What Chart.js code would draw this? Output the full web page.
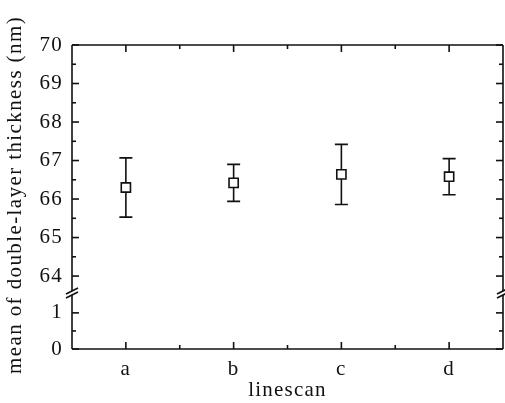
<!DOCTYPE html>
<html>
<head>
<meta charset="utf-8">
<script src="https://cdn.jsdelivr.net/npm/chart.js@4"></script>
<style>
  html, body { margin: 0; padding: 0; background: #fff; }
  #wrap { width: 505px; height: 403px; }
</style>
</head>
<body>
<div id="wrap"><canvas id="graphic" width="505" height="403"></canvas></div>
<script>
// data
const linescans = ['a', 'b', 'c', 'd'];
const meanThickness = [66.30, 66.42, 66.64, 66.58];
const errThickness = [0.77, 0.48, 0.78, 0.47];
const upperTicks = [64, 65, 66, 67, 68, 69, 70];
const lowerTicks = [0, 1];

const INK = '#111';
const FONT = '"Liberation Serif", "DejaVu Serif", serif';

// frame, inward ticks, axis break, y title
const framePlugin = {
    id: 'frame',
    beforeDraw(chart) {
        // the original lettering is a bit wider than Times
        chart.ctx.letterSpacing = '1.2px';
    },
    beforeDatasetsDraw(chart) {
        const ctx = chart.ctx;
        const x = chart.scales.x;
        const y = chart.scales.yHigh;
        ctx.save();
        ctx.strokeStyle = INK;
        ctx.lineWidth = 1.6;
        meanThickness.forEach((m, i) => {
            const px = x.getPixelForValue(i);
            const top = y.getPixelForValue(m + errThickness[i]);
            const bot = y.getPixelForValue(m - errThickness[i]);
            ctx.beginPath();
            ctx.moveTo(px, top); ctx.lineTo(px, bot);
            ctx.moveTo(px - 6.5, top); ctx.lineTo(px + 6.5, top);
            ctx.moveTo(px - 6.5, bot); ctx.lineTo(px + 6.5, bot);
            ctx.stroke();
        });
        ctx.restore();
    },
    afterDraw(chart) {
        const ctx = chart.ctx;
        const a = chart.chartArea;
        const x = chart.scales.x;
        const hi = chart.scales.yHigh;
        const lo = chart.scales.yLow;
        const brk = hi.bottom;
        ctx.save();
        ctx.strokeStyle = INK;
        ctx.lineWidth = 1.6;
        ctx.lineCap = 'butt';
        const line = (x1, y1, x2, y2) => {
            ctx.beginPath(); ctx.moveTo(x1, y1); ctx.lineTo(x2, y2); ctx.stroke();
        };
        // box
        line(a.left, a.top, a.right, a.top);
        line(a.left, a.bottom, a.right, a.bottom);
        line(a.left, a.top, a.left, a.bottom);
        line(a.right, a.top, a.right, a.bottom);

        // y ticks, both sides
        const yTick = (py, len) => {
            line(a.left, py, a.left + len, py);
            line(a.right, py, a.right - len, py);
        };
        upperTicks.forEach(v => {
            yTick(hi.getPixelForValue(v), 7);
            if (v + 0.5 < hi.max) yTick(hi.getPixelForValue(v + 0.5), 4);
        });
        lowerTicks.forEach(v => {
            yTick(lo.getPixelForValue(v), 7);
            if (v + 0.5 < lo.max - 0.2) yTick(lo.getPixelForValue(v + 0.5), 4);
        });
        // x ticks, top and bottom
        linescans.forEach((c, i) => {
            const px = x.getPixelForValue(i);
            line(px, a.bottom, px, a.bottom - 7);
            line(px, a.top, px, a.top + 7);
            if (i > 0) {
                const mx = (px + x.getPixelForValue(i - 1)) / 2;
                line(mx, a.bottom, mx, a.bottom - 4);
                line(mx, a.top, mx, a.top + 4);
            }
        });

        // axis break marks
        [a.left, a.right].forEach(bx => {
            ctx.fillStyle = '#fff';
            ctx.fillRect(bx - 2, brk - 2, 4, 4);
            line(bx - 6, brk + 1, bx + 6, brk - 5);
            line(bx - 6, brk + 5, bx + 6, brk - 1);
        });

        // y title centred on whole plot
        ctx.fillStyle = INK;
        ctx.font = '21px ' + FONT;
        ctx.letterSpacing = '1.4px';
        ctx.textAlign = 'center';
        ctx.textBaseline = 'middle';
        ctx.translate(15, (a.top + a.bottom) / 2 - 2);
        ctx.rotate(-Math.PI / 2);
        ctx.fillText('mean of double-layer thickness (nm)', 0, 0);
        ctx.restore();
    }
};

const tickFont = { family: FONT, size: 21 };

const ctx = document.getElementById('graphic').getContext('2d');
const myChart = new Chart(ctx, {
    type: 'line',
    data: {
        labels: linescans,
        datasets: [{
            data: meanThickness,
            yAxisID: 'yHigh',
            showLine: false,
            pointStyle: 'rect',
            pointRadius: 6.5,
            pointHoverRadius: 6.5,
            pointBackgroundColor: '#fff',
            pointBorderColor: INK,
            pointBorderWidth: 1.6
        }]
    },
    options: {
        responsive: false,
        animation: false,
        layout: { autoPadding: false, padding: { top: 45, right: 2, left: 0, bottom: 0 } },
        plugins: {
            legend: { display: false },
            tooltip: { enabled: false }
        },
        scales: {
            x: {
                type: 'category',
                offset: true,
                grid: { display: false, drawTicks: false },
                border: { display: false },
                ticks: { color: INK, font: tickFont, padding: 8 },
                title: {
                    display: true,
                    text: 'linescan',
                    color: INK,
                    font: { family: FONT, size: 21 },
                    padding: { top: 4, bottom: 0 }
                },
                afterFit(s) {
                    s.height = 54;
                    s.paddingLeft = 0;
                    s.paddingRight = 0;
                }
            },
            yLow: {
                type: 'linear',
                position: 'left',
                stack: 'thick',
                stackWeight: 56,
                min: 0,
                max: 1.55,
                grid: { display: false, drawTicks: false },
                border: { display: false },
                ticks: { stepSize: 1, includeBounds: false, autoSkip: false, color: INK, font: tickFont, padding: 9 },
                afterFit(s) { s.width = 72; }
            },
            yHigh: {
                type: 'linear',
                position: 'left',
                stack: 'thick',
                stackWeight: 248,
                min: 63.56,
                max: 70,
                grid: { display: false, drawTicks: false },
                border: { display: false },
                ticks: { stepSize: 1, includeBounds: false, autoSkip: false, color: INK, font: tickFont, padding: 9 },
                afterFit(s) { s.width = 72; }
            }
        }
    },
    plugins: [framePlugin]
});
</script>
</body>
</html>
